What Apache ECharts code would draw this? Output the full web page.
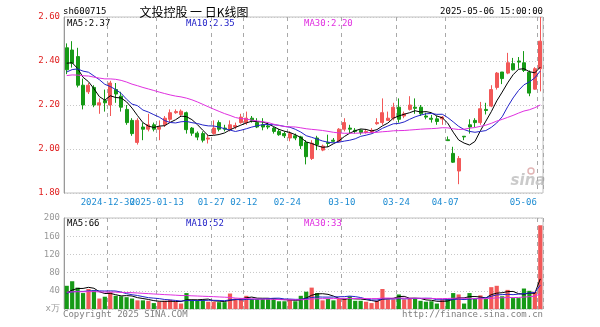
<!DOCTYPE html>
<html>
<head>
<meta charset="utf-8">
<script src="https://cdn.jsdelivr.net/npm/echarts/dist/echarts.min.js"></script>
<style>
  html, body { margin: 0; padding: 0; background: #fff; }
  #chart { width: 600px; height: 327px; }
</style>
</head>
<body>
<div id="chart"></div>
<script>
// Trading sessions shown on the daily K-line (04-30 suspended)
const dates = [
  '2024-12-18','2024-12-19','2024-12-20','2024-12-23','2024-12-24','2024-12-25','2024-12-26','2024-12-27',
  '2024-12-30','2024-12-31','2025-01-02','2025-01-03','2025-01-06','2025-01-07','2025-01-08','2025-01-09','2025-01-10',
  '2025-01-13','2025-01-14','2025-01-15','2025-01-16','2025-01-17','2025-01-20','2025-01-21','2025-01-22','2025-01-23','2025-01-24',
  '2025-01-27','2025-02-05','2025-02-06','2025-02-07','2025-02-10','2025-02-11',
  '2025-02-12','2025-02-13','2025-02-14','2025-02-17','2025-02-18','2025-02-19','2025-02-20','2025-02-21',
  '2025-02-24','2025-02-25','2025-02-26','2025-02-27','2025-02-28','2025-03-03','2025-03-04','2025-03-05','2025-03-06','2025-03-07',
  '2025-03-10','2025-03-11','2025-03-12','2025-03-13','2025-03-14','2025-03-17','2025-03-18','2025-03-19','2025-03-20','2025-03-21',
  '2025-03-24','2025-03-25','2025-03-26','2025-03-27','2025-03-28','2025-03-31','2025-04-01','2025-04-02','2025-04-03',
  '2025-04-07','2025-04-08','2025-04-09','2025-04-10','2025-04-11','2025-04-14','2025-04-15','2025-04-16','2025-04-17','2025-04-18',
  '2025-04-21','2025-04-22','2025-04-23','2025-04-24','2025-04-25','2025-04-28','2025-04-29','2025-05-06'
];

const opens = [
  2.46,2.45,2.42,2.29,2.26,2.28,2.20,2.22,2.20,2.27,2.24,2.18,2.13,2.03,2.10,2.09,2.11,2.09,2.11,2.135,
  2.165,2.157,2.165,2.095,2.072,2.07,2.045,2.07,2.12,2.095,2.09,2.10,2.12,2.12,2.14,2.12,2.11,2.105,2.095,2.08,
  2.07,2.05,2.06,2.055,2.03,1.957,2.05,1.995,2.03,2.04,2.035,2.09,2.095,2.085,2.085,2.075,2.078,2.115,2.12,2.13,
  2.14,2.19,2.15,2.18,2.19,2.19,2.15,2.14,2.137,2.137,2.042,1.98,1.90,2.058,2.11,2.13,2.12,2.18,2.195,2.28,
  2.35,2.345,2.388,2.40,2.392,2.349,2.272,2.365
];
const closes = [
  2.36,2.39,2.29,2.20,2.29,2.20,2.21,2.21,2.30,2.25,2.19,2.12,2.07,2.13,2.09,2.11,2.09,2.10,2.14,2.165,
  2.17,2.172,2.088,2.072,2.054,2.04,2.05,2.095,2.09,2.09,2.11,2.107,2.145,2.14,2.13,2.10,2.10,2.10,2.08,2.065,
  2.06,2.07,2.05,2.015,1.965,2.026,2.02,2.013,2.025,2.035,2.09,2.12,2.09,2.08,2.075,2.08,2.085,2.12,2.165,2.14,
  2.19,2.135,2.16,2.20,2.185,2.16,2.145,2.135,2.125,2.145,2.038,1.94,1.957,2.055,2.10,2.12,2.183,2.175,2.27,2.345,
  2.32,2.392,2.36,2.395,2.357,2.254,2.365,2.49
];
const highs = [
  2.48,2.49,2.46,2.32,2.30,2.29,2.23,2.27,2.31,2.30,2.26,2.20,2.14,2.14,2.12,2.16,2.12,2.13,2.15,2.18,
  2.18,2.18,2.17,2.10,2.08,2.08,2.065,2.13,2.13,2.11,2.13,2.12,2.16,2.17,2.15,2.14,2.14,2.12,2.10,2.09,
  2.08,2.08,2.07,2.06,2.04,2.04,2.06,2.02,2.065,2.05,2.095,2.14,2.11,2.095,2.09,2.09,2.095,2.14,2.23,2.17,
  2.21,2.23,2.17,2.24,2.23,2.20,2.165,2.155,2.15,2.15,2.057,2.01,1.968,2.058,2.135,2.14,2.214,2.21,2.29,2.35,
  2.35,2.437,2.414,2.418,2.445,2.357,2.372,2.60
];
const lows = [
  2.34,2.37,2.28,2.18,2.25,2.19,2.16,2.17,2.15,2.21,2.17,2.11,2.06,2.02,2.04,2.08,2.08,2.04,2.10,2.12,
  2.16,2.15,2.07,2.06,2.04,2.03,2.025,2.065,2.08,2.08,2.08,2.09,2.115,2.11,2.12,2.095,2.085,2.09,2.07,2.06,
  2.05,2.035,2.04,2.00,1.93,1.95,1.995,1.99,2.01,2.03,2.03,2.08,2.07,2.07,2.065,2.07,2.07,2.11,2.11,2.13,
  2.13,2.12,2.14,2.175,2.16,2.15,2.135,2.12,2.11,2.11,2.038,1.937,1.84,2.04,2.07,2.10,2.11,2.157,2.19,2.27,
  2.295,2.34,2.357,2.365,2.35,2.24,2.27,2.262
];
// Volume, in units of 10,000 lots
const volumes = [
  51,61,47,35,44,41,23,27,37,29,28,26,23,19,19,18,13,16,18,20,
  16,12,35,19,19,20,16,16,15,15,34,23,23,29,22,22,22,23,23,17,
  17,20,17,29,38,47,35,19,22,19,23,23,28,18,18,16,13,18,44,21,
  21,32,21,23,22,18,16,17,12,21,22,35,32,12,35,23,30,22,48,51,
  28,42,24,24,45,40,38,184
];

// Sessions before the window, used only to seed the moving averages
const priorCloses = [
  2.30,2.31,2.29,2.33,2.35,2.34,2.32,2.30,2.31,2.33,2.35,2.36,2.34,2.33,2.31,
  2.30,2.32,2.34,2.35,2.33,2.28,2.26,2.30,2.34,2.37,2.38,2.42,2.40,2.39
];
const priorVolumes = [
  42,36,40,35,38,44,39,33,37,41,36,34,39,42,38,
  35,37,40,36,38,33,38,36,32,36,28,30,34,32
];

const tickDates = ['2024-12-30','2025-01-13','2025-01-27','2025-02-12','2025-02-24','2025-03-10','2025-03-24','2025-04-07','2025-05-06'];
const tickLabels = ['2024-12-30','2025-01-13','01-27','02-12','02-24','03-10','03-24','04-07','05-06'];

const maPeriods = [5, 10, 30];
const maColors = ['#000000', '#2323c8', '#e030e0'];

const RED = '#f25858';
const GREEN = '#169a16';
const LABEL_BLUE = '#1e8cd2';
const MONO = '"DejaVu Sans Mono", monospace';

function movingAvg(prior, values, n) {
  const all = prior.concat(values);
  const off = prior.length;
  return values.map((_, i) => {
    let s = 0;
    for (let k = 0; k < n; k++) s += all[off + i - k];
    return s / n;
  });
}

const isUp = closes.map((c, i) => {
  if (c !== opens[i]) return c > opens[i];
  const prev = i > 0 ? closes[i - 1] : priorCloses[priorCloses.length - 1];
  return c >= prev;
});

const candleData = dates.map((_, i) => [opens[i], closes[i], lows[i], highs[i]]);
const volumeData = volumes.map((v, i) => ({ value: v, itemStyle: { color: isUp[i] ? RED : GREEN } }));

const priceMA = maPeriods.map(n => movingAvg(priorCloses, closes, n));
const volMA = maPeriods.map(n => movingAvg(priorVolumes, volumes, n));

const dateAt = (idx, value) => (dates[idx] !== undefined ? dates[idx] : value);
const isTick = (idx, value) => tickDates.indexOf(dateAt(idx, value)) >= 0;
const firstDate = tickDates[0];
const lastDate = tickDates[tickDates.length - 1];

const splitX = { show: true, interval: isTick, lineStyle: { color: '#a8a8a8', type: [4, 4], width: 1 } };
const splitY = { show: true, lineStyle: { color: '#c8c8c8', type: [1, 2], width: 1 } };

const labelBase = { color: LABEL_BLUE, fontSize: 9, fontFamily: MONO, margin: 5, hideOverlap: false, padding: [0, 5, 0, 0] };

const last = arr => arr[arr.length - 1];

const chart = echarts.init(document.getElementById('chart'), null, { renderer: 'canvas' });

const series = [{
  type: 'candlestick',
  xAxisIndex: 0, yAxisIndex: 0,
  data: candleData,
  barWidth: 3.5,
  itemStyle: { color: RED, color0: GREEN, borderColor: RED, borderColor0: GREEN, borderWidth: 1 },
  z: 2
}];
maPeriods.forEach((n, k) => {
  series.push({
    type: 'line', xAxisIndex: 0, yAxisIndex: 0,
    data: priceMA[k].map(v => +v.toFixed(4)),
    symbol: 'none', lineStyle: { color: maColors[k], width: 1 }, z: 3, silent: true
  });
});
series.push({
  type: 'bar', xAxisIndex: 1, yAxisIndex: 1,
  data: volumeData, barWidth: 4.2, z: 2
});
maPeriods.forEach((n, k) => {
  series.push({
    type: 'line', xAxisIndex: 1, yAxisIndex: 1,
    data: volMA[k].map(v => +v.toFixed(2)),
    symbol: 'none', lineStyle: { color: maColors[k], width: 1 }, z: 3, silent: true
  });
});

const txt = (text, x, y, fill, extra) => Object.assign({
  type: 'text', x: x, y: y, silent: true,
  style: Object.assign({ text: text, fill: fill, font: '9px ' + MONO, textVerticalAlign: 'middle' }, extra || {})
});

const graphics = [
  txt('sh600715', 63, 12, '#000'),
  txt('文投控股 一 日K线图', 194, 12, '#000', { font: '12px "Noto Sans CJK SC"', textAlign: 'center' }),
  txt(lastDate + ' 15:00:00', 543, 12, '#000', { textAlign: 'right' }),
  txt('MA5:' + last(priceMA[0]).toFixed(2), 67, 24, maColors[0]),
  txt('MA10:' + last(priceMA[1]).toFixed(2), 186, 24, maColors[1]),
  txt('MA30:' + last(priceMA[2]).toFixed(2), 304, 24, maColors[2]),
  txt('MA5:' + Math.round(last(volMA[0])), 67, 224, maColors[0]),
  txt('MA10:' + Math.round(last(volMA[1])), 186, 224, maColors[1]),
  txt('MA30:' + Math.round(last(volMA[2])), 304, 224, maColors[2]),
  txt('Copyright 2025 SINA.COM', 63, 315, '#808080'),
  txt('http://finance.sina.com.cn', 543, 315, '#808080', { textAlign: 'right' }),
  txt('sina', 528, 181, 'rgba(150,150,150,0.5)', { font: 'italic bold 15px "DejaVu Sans"', textAlign: 'center' }),
  { type: 'circle', shape: { cx: 531, cy: 171, r: 3 }, silent: true,
    style: { fill: 'none', stroke: 'rgba(200,120,120,0.55)', lineWidth: 1.5 } }
];

chart.setOption({
  animation: false,
  backgroundColor: '#fff',
  grid: [
    { left: 64, top: 17, width: 479, height: 176, show: true, borderColor: '#c0c0c0', borderWidth: 1 },
    { left: 64, top: 218, width: 479, height: 91, show: true, borderColor: '#c0c0c0', borderWidth: 1 }
  ],
  xAxis: [
    {
      // date ticks after the first one, plus the dashed vertical guides
      type: 'category', gridIndex: 0, data: dates, boundaryGap: true,
      axisLine: { show: false }, axisTick: { show: false },
      axisLabel: Object.assign({}, labelBase, {
        interval: (idx, value) => isTick(idx, value) && dateAt(idx, value) !== firstDate,
        formatter: v => {
          const k = tickDates.indexOf(v);
          if (k < 0 || v === firstDate) return '';
          return v === lastDate ? '{end|' + tickLabels[k] + '}' : tickLabels[k];
        },
        rich: { end: { color: LABEL_BLUE, fontSize: 9, fontFamily: MONO, padding: [0, 29, 0, 0] } }
      }),
      splitLine: splitX
    },
    {
      type: 'category', gridIndex: 1, data: dates, boundaryGap: true,
      axisLine: { show: false }, axisTick: { show: false }, axisLabel: { show: false },
      splitLine: splitX
    },
    {
      // first date tick, kept on its own axis so it is not dropped where it touches the next one
      type: 'category', gridIndex: 0, data: dates, boundaryGap: true, position: 'bottom',
      axisLine: { show: false }, axisTick: { show: false }, splitLine: { show: false },
      axisLabel: Object.assign({}, labelBase, {
        interval: (idx, value) => dateAt(idx, value) === firstDate,
        formatter: v => (v === firstDate ? tickLabels[0] : '')
      })
    }
  ],
  yAxis: [
    {
      type: 'value', gridIndex: 0, min: 1.8, max: 2.6, interval: 0.2,
      axisLine: { show: true, lineStyle: { color: '#999' } }, axisTick: { show: false },
      axisLabel: { color: '#e02020', fontSize: 9, fontFamily: MONO, margin: 4, formatter: v => v.toFixed(2) },
      splitLine: splitY
    },
    {
      type: 'value', gridIndex: 1, min: 0, max: 200, interval: 40,
      axisLine: { show: true, lineStyle: { color: '#999' } }, axisTick: { show: false },
      axisLabel: { color: '#999', fontSize: 9, fontFamily: MONO, margin: 4, formatter: v => v === 0 ? 'x万' : String(v) },
      splitLine: splitY
    }
  ],
  series: series,
  graphic: graphics
});
</script>
</body>
</html>
